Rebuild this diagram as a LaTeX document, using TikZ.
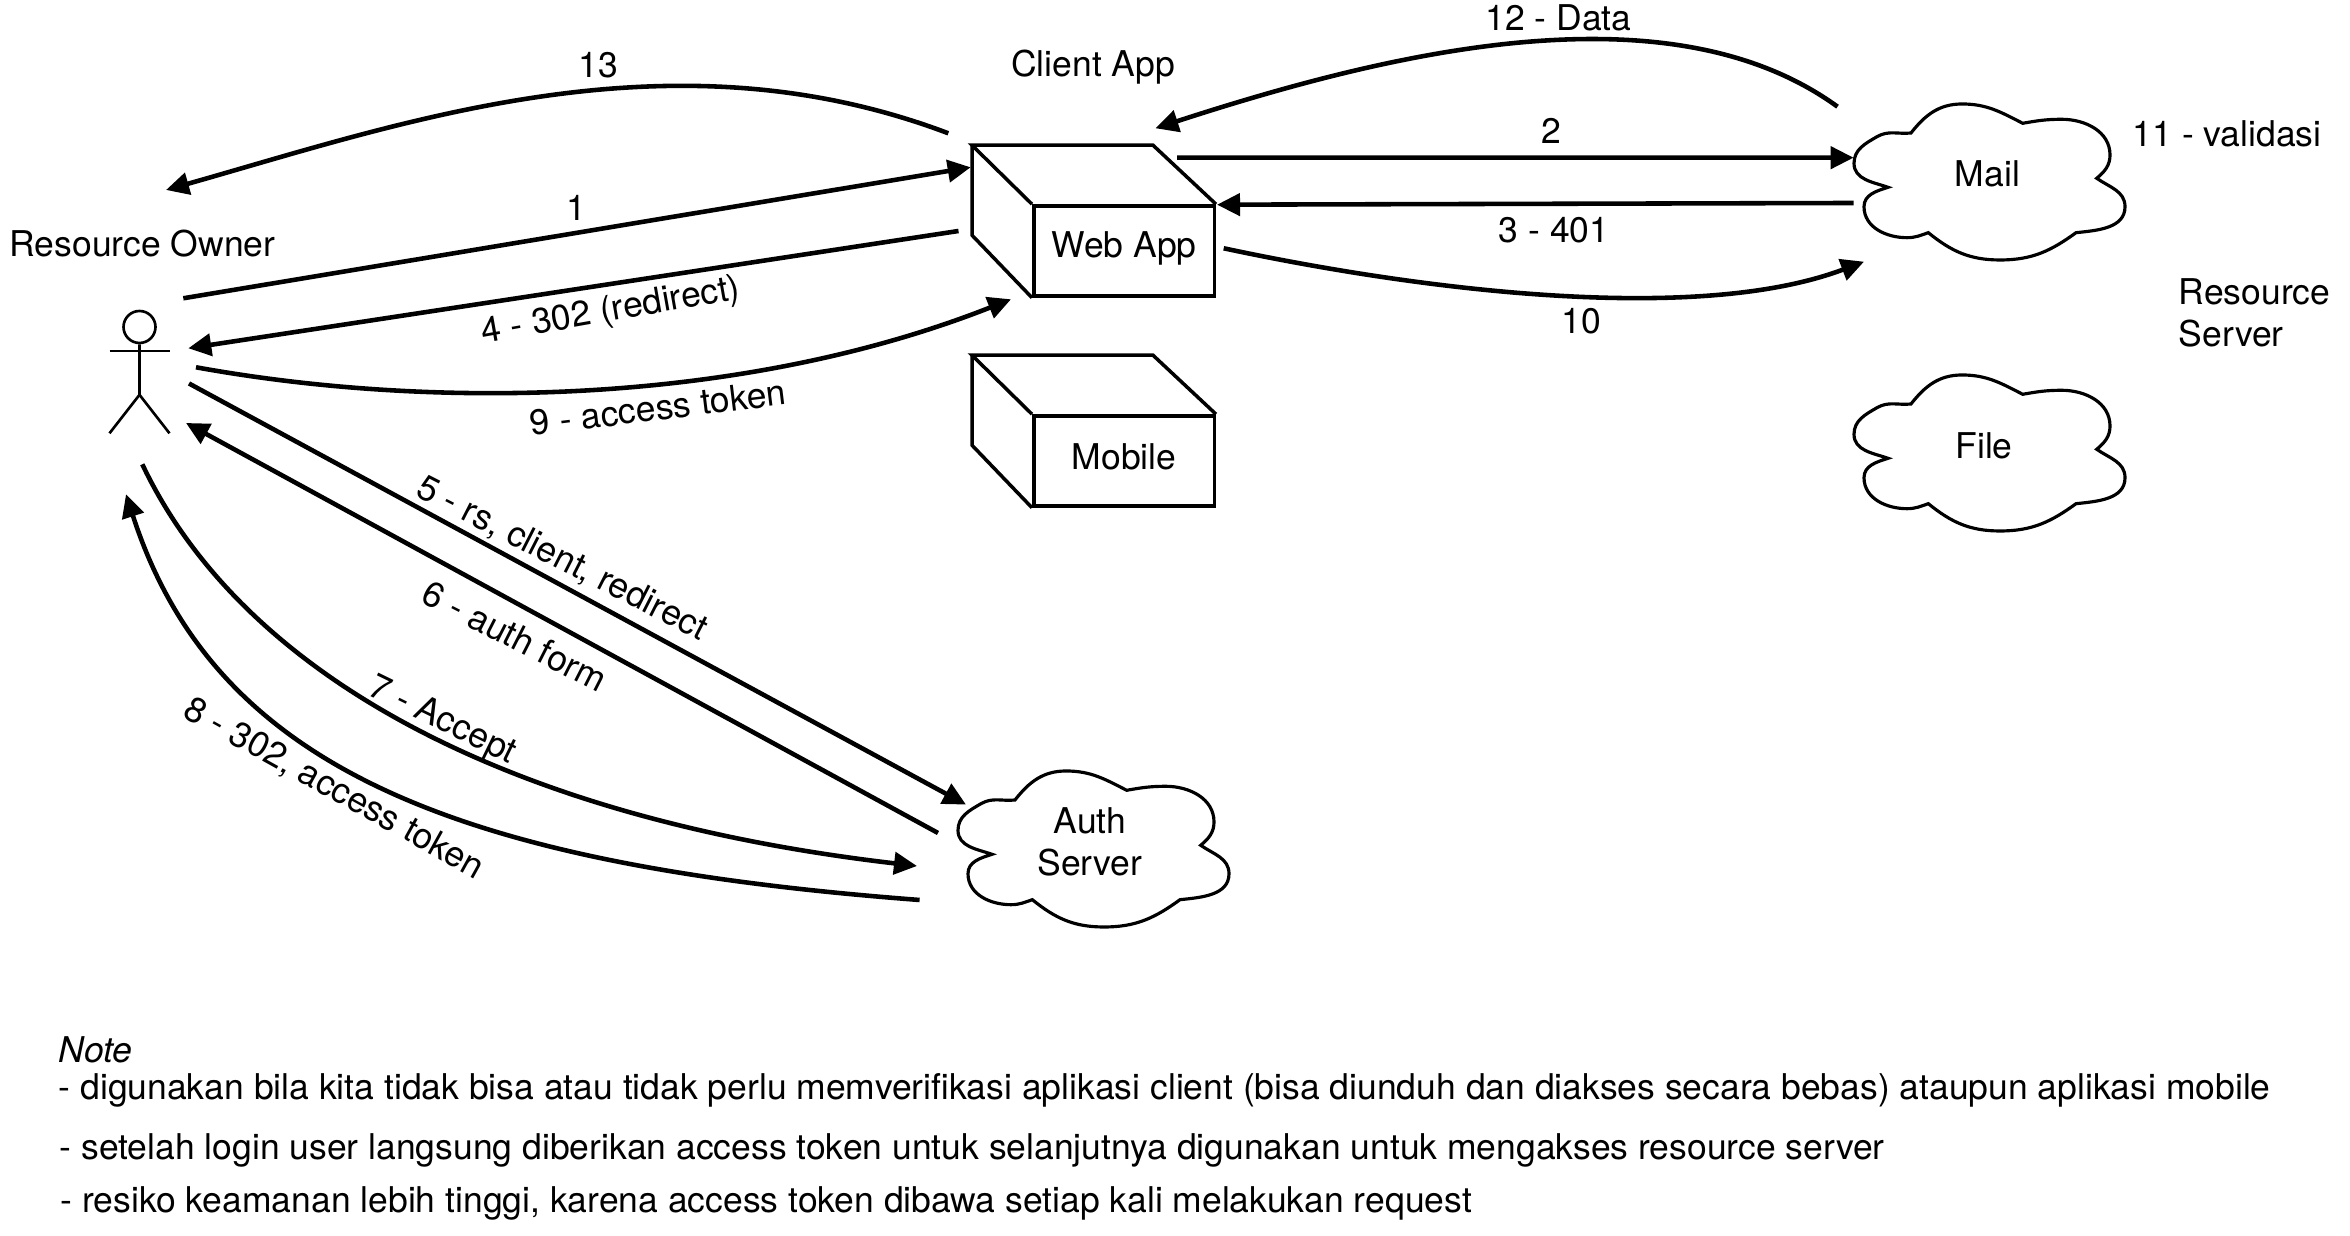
\documentclass[tikz,border=0pt]{standalone}
\usepackage{fontspec}
\setmainfont{TeX Gyre Heros}
\usetikzlibrary{arrows.meta}
\def\puff(#1){\begin{scope}[shift={(#1)}]
	\draw[line width=0.9pt] (-.78,.49) to[out=52,in=180] (-.27,.78) to[out=0,in=153] (.337,.587) to[out=10,in=180] (.727,.627) to[out=0,in=90] (1.21,.27) to[out=-90,in=40] (1.077,.037) to[out=-35,in=90] (1.36,-.247) to[out=-90,in=6] (.87,-.507) to[out=216,in=0] (.11,-.78) to[out=180,in=-39] (-.607,-.507) to[out=199,in=0] (-.82,-.557) to[out=180,in=-90] (-1.25,-.247) to[out=90,in=198] (-1.01,-.053) to[out=161,in=-90] (-1.35,.187) to[out=90,in=210] (-1.12,.453) to[out=30,in=186] cycle;
\end{scope}}
\def\cubeback(#1){\draw[boxline] (#1.north west) -- ++(-.6,.59) -- ++(1.81,0) -- (#1.north east);
	\draw[boxline] (#1.north west) ++(-.6,.59) -- ++(0,-.9) -- (#1.south west);}
\tikzset{
	boxline/.style={line width=1pt},
	flow/.style={line width=1.3pt,-{Triangle[length=2.3mm,width=2.2mm]}},
	frontbox/.style={boxline,draw,minimum width=1.805cm,minimum height=.9cm,inner sep=0pt},
	notetext/.style={anchor=west,inner sep=0pt}
}
\begin{document}
\begin{tikzpicture}[font=\fontsize{10.1pt}{12.1pt}\selectfont]
	\useasboundingbox (0,0) rectangle (23.5,12.36);
	%%%%% actor %%%%%
	\node[circle,draw,line width=0.75pt,minimum size=.32cm,inner sep=0pt] (owner) at (1.395,9.09) {};
	\draw[line width=0.75pt] (owner.south) -- ++(0,-.505) coordinate (hip) -- ++(-.3,-.385);
	\draw[line width=0.75pt] (hip) -- ++(.3,-.385);
	\draw[line width=0.75pt] ([shift={(-.3,-.24)}]owner.center) -- ++(.6,0);
	\node (ownerlabel) at (1.425,9.92) {Resource Owner};
	%%%%% client %%%%%
	\node[frontbox,text depth=.135cm] (webapp) at (11.24,9.85) {Web App};
	\cubeback(webapp)
	\node[frontbox,text depth=.095cm] (mobile) at (11.24,7.75) {Mobile};
	\cubeback(mobile)
	\node (clientlabel) at (10.93,11.69) {Client App};
	%%%%% servers %%%%%
	\puff(19.89,10.54)
	\node (mail) at (19.875,10.62) {Mail};
	\puff(19.89,7.83)
	\node (file) at (19.84,7.90) {File};
	\puff(10.93,3.87)
	\node[align=center,font=\fontsize{10.1pt}{.42cm}\selectfont] (auth) at (10.90,3.94) {Auth\\Server};
	\node[align=left,anchor=west,inner sep=0pt,font=\fontsize{10.1pt}{.42cm}\selectfont] (rslabel) at (21.78,9.23) {Resource\\Server};
	\node (validasi) at (22.27,11.02) {11 - validasi};
	%%%%% flows %%%%%
	\draw[flow] ([shift={(.438,.287)}]owner.center) -- ([shift={(-1.533,.837)}]webapp.center);
	\draw[flow] ([shift={(.53,.933)}]webapp.center) -- ([shift={(-1.339,.163)}]mail.center);
	\draw[flow] ([shift={(-1.339,-.29)}]mail.center) -- ([shift={(.93,.463)}]webapp.center);
	\draw[flow] ([shift={(-1.655,.2)}]webapp.center) -- ([shift={(.488,-.213)}]owner.center);
	\draw[flow] ([shift={(.495,-.565)}]owner.center) -- ([shift={(-1.24,.374)}]auth.center);
	\draw[flow] ([shift={(-1.52,.09)}]auth.center) -- ([shift={(.465,-.96)}]owner.center);
	\draw[flow] ([shift={(.028,-1.373)}]owner.center) .. controls (2.35,5.76) and (4.80,4.21) .. ([shift={(-1.73,-.24)}]auth.center);
	\draw[flow] ([shift={(-1.704,-.58)}]auth.center) .. controls (4.60,3.71) and (2.15,4.66) .. ([shift={(-.135,-1.673)}]owner.center);
	\draw[flow] ([shift={(.565,-.403)}]owner.center) .. controls (4.43,8.24) and (7.48,8.33) .. ([shift={(-1.13,-.483)}]webapp.center);
	\draw[flow] ([shift={(.997,.027)}]webapp.center) .. controls (14.19,9.46) and (16.96,9.11) .. ([shift={(-1.235,-.877)}]mail.center);
	\draw[flow] ([shift={(-1.5,.673)}]mail.center) .. controls (16.70,12.51) and (13.93,11.85) .. ([shift={(.314,1.227)}]webapp.center);
	\draw[flow] ([shift={(-1.757,1.177)}]webapp.center) .. controls (6.70,12.08) and (4.06,11.14) .. ([shift={(.265,1.37)}]owner.center);
	%%%%% flow labels %%%%%
	\node (one) at (5.76,10.28) {1};
	\node (two) at (15.51,11.05) {2};
	\node (three) at (15.54,10.06) {3 - 401};
	\node[rotate=10] (four) at (6.11,9.24) {4 - 302 (redirect)};
	\node[rotate=-27] (five) at (5.62,6.77) {5 - rs, client, redirect};
	\node[rotate=-27] (six) at (5.15,6.0) {6 - auth form};
	\node[rotate=-26] (seven) at (4.42,5.15) {7 - Accept};
	\node[rotate=-29] (eight) at (3.34,4.47) {8 - 302, access token};
	\node[rotate=7] (nine) at (6.58,8.285) {9 - access token};
	\node (ten) at (15.81,9.15) {10};
	\node (twelve) at (15.585,12.18) {12 - Data};
	\node (thirteen) at (5.98,11.71) {13};
	%%%%% note %%%%%
	\node[notetext] (note) at (.58,1.865) {\itshape Note};
	\node[notetext] (noteone) at (.58,1.455) {- digunakan bila kita tidak bisa atau tidak perlu memverifikasi aplikasi client (bisa diunduh dan diakses secara bebas) ataupun aplikasi mobile};
	\node[notetext] (notetwo) at (.59,.855) {- setelah login user langsung diberikan access token untuk selanjutnya digunakan untuk mengakses resource server};
	\node[notetext] (notethree) at (.60,.325) {- resiko keamanan lebih tinggi, karena access token dibawa setiap kali melakukan request};
\end{tikzpicture}
\end{document}
